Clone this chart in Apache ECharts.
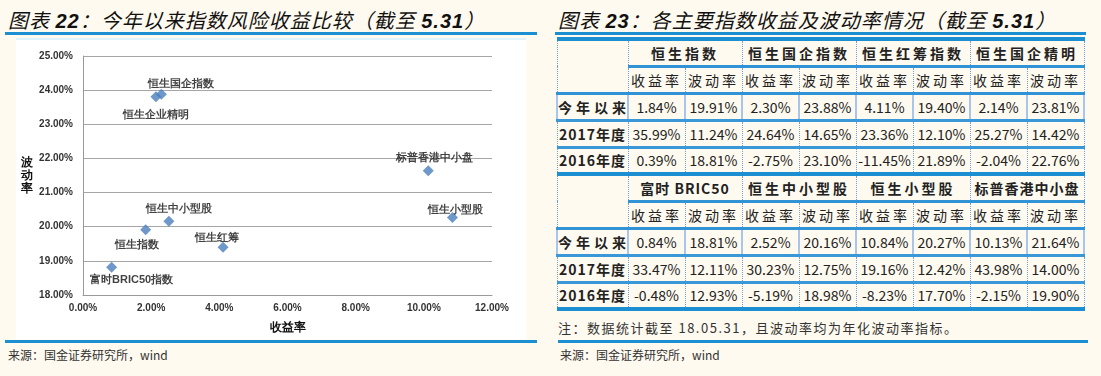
<!DOCTYPE html>
<html>
<head>
<meta charset="utf-8">
<script src="https://cdn.jsdelivr.net/npm/echarts@6/dist/echarts.min.js"></script>
<style>
  html, body { margin: 0; padding: 0; }
  body {
    width: 1101px; height: 376px; position: relative; overflow: hidden;
    background: #fffaf0;
    font-family: "Noto Sans CJK SC", "Liberation Sans", sans-serif;
  }
  .title {
    position: absolute; top: 5px; font-size: 20px; font-style: italic;
    color: #111; letter-spacing: 1px; white-space: nowrap;
  }
  .title b { font-family: "Liberation Sans", Arial, sans-serif; font-weight: bold; }
  .rule { position: absolute; height: 3px; background: #1b8fd2; }
  .source { position: absolute; top: 346px; font-size: 12px; color: #333; }
  #scatter {
    position: absolute; left: 16px; top: 38px; width: 510px; height: 299px;
    background: #fff; border-top: 2px solid #dff3fb;
  }
  table.idx {
    position: absolute; left: 556px; top: 37px; width: 527px;
    border-collapse: collapse; table-layout: fixed;
    border-top: 4px solid #1b8fd2;
  }
  table.idx tr { height: 27px; }
  table.idx td {
    border-left: 1px dotted #6e9fe0; border-right: 1px dotted #6e9fe0;
    text-align: center; padding: 0; white-space: nowrap; overflow: hidden;
    line-height: 16px; color: #222; font-size: 14px;
  }
  td.grp { font-weight: bold; font-size: 14px; letter-spacing: 3px; color: #111;
           border-bottom: 3px solid #2f93d6; }
  td.grp.long { letter-spacing: 1px; }
  td.sub { font-size: 14px; letter-spacing: 3px; color: #666; border-bottom: 3px solid #2f93d6; }
  td.corner { border-bottom: 3px solid #2f93d6; }
  td.rowname { font-weight: bold; font-size: 14px; letter-spacing: 1px; color: #111; }
  td.rowname.cn { letter-spacing: 4px; }
  tr.data td { border-bottom: 3px solid #3a97d8; }
  tr.first td { border-left: 2px solid #a8c6ec; border-right: 2px solid #a8c6ec; }
  tr.last td { border-bottom: 4px solid #1b8fd2; }
  .note { position: absolute; left: 558px; top: 318px; font-size: 13px; color: #333; letter-spacing: 1.5px; }
</style>
</head>
<body>
<div class="title" style="left:8px">图表 <b>22</b>：今年以来指数风险收益比较（截至 <b>5.31</b>）</div>
<div class="rule" style="left:5px; top:32px; width:532px"></div>
<div class="title" style="left:558px">图表 <b>23</b>：各主要指数收益及波动率情况（截至 <b>5.31</b>）</div>
<div class="rule" style="left:555px; top:32px; width:531px"></div>

<div id="scatter"></div>
<table class="idx" id="tbl"></table>
<div class="note">注：数据统计截至 18.05.31，且波动率均为年化波动率指标。</div>

<div class="rule" style="left:5px; top:340px; width:532px"></div>
<div class="rule" style="left:558px; top:340px; width:530px"></div>
<div class="source" style="left:8px">来源：国金证券研究所，wind</div>
<div class="source" style="left:560px">来源：国金证券研究所，wind</div>

<script>
// 指数名称（表格表头）
const indexNames = ['恒生指数', '恒生国企指数', '恒生红筹指数', '恒生国企精明',
                    '富时 BRIC50', '恒生中小型股', '恒生小型股', '标普香港中小盘']
// 散点图标签
const scatterNames = ['恒生指数', '恒生国企指数', '恒生红筹', '恒生企业精明',
                      '富时BRIC50指数', '恒生中小型股', '恒生小型股', '标普香港中小盘']
const rowNames = ['今年以来', '2017年度', '2016年度']
const subHeaders = ['收益率', '波动率']

// 收益率 / 波动率 (%)
const ytdReturn = [1.84, 2.30, 4.11, 2.14, 0.84, 2.52, 10.84, 10.13]
const ytdVol = [19.91, 23.88, 19.40, 23.81, 18.81, 20.16, 20.27, 21.64]
const return2017 = [35.99, 24.64, 23.36, 25.27, 33.47, 30.23, 19.16, 43.98]
const vol2017 = [11.24, 14.65, 12.10, 14.42, 12.11, 12.75, 12.42, 14.00]
const return2016 = [0.39, -2.75, -11.45, -2.04, -0.48, -5.19, -8.23, -2.15]
const vol2016 = [18.81, 23.10, 21.89, 22.76, 12.93, 18.98, 17.70, 19.90]

// 坐标轴刻度
const xTicks = [0, 2, 4, 6, 8, 10, 12]
const yTicks = [18, 19, 20, 21, 22, 23, 24, 25]

const pct = v => v.toFixed(2) + '%'

// ---- 表格 ----
const rowData = [[ytdReturn, ytdVol], [return2017, vol2017], [return2016, vol2016]]
let html = '<colgroup><col style="width:71px">' + '<col style="width:57px">'.repeat(8) + '</colgroup>'
for (let b = 0; b < 2; b++) {
  const idx = [0, 1, 2, 3].map(i => i + b * 4)
  html += '<tr><td class="corner" rowspan="2"></td>'
  idx.forEach(i => {
    const cls = indexNames[i].length > 6 ? 'grp long' : 'grp'
    html += `<td class="${cls}" colspan="2">${indexNames[i]}</td>`
  })
  html += '</tr><tr>'
  idx.forEach(() => { subHeaders.forEach(s => { html += `<td class="sub">${s}</td>` }) })
  html += '</tr>'
  rowNames.forEach((name, r) => {
    const cls = 'data' + (r === 0 ? ' first' : '') + (r === rowNames.length - 1 ? ' last' : '')
    const nameCls = /^\d/.test(name) ? 'rowname' : 'rowname cn'
    html += `<tr class="${cls}"><td class="${nameCls}">${name}</td>`
    idx.forEach(i => {
      html += `<td>${pct(rowData[r][0][i])}</td><td>${pct(rowData[r][1][i])}</td>`
    })
    html += '</tr>'
  })
}
document.getElementById('tbl').innerHTML = html

// ---- 散点图 ----
// 标签位置（样式）
const labelPos = {
  '恒生指数': { position: 'bottom', offset: [-9, 2] },
  '恒生国企指数': { position: 'top', offset: [20, 3] },
  '恒生红筹': { position: 'top', offset: [-6, 4] },
  '恒生企业精明': { position: 'bottom', offset: [0, 5] },
  '富时BRIC50指数': { position: 'bottom', offset: [20, 0] },
  '恒生中小型股': { position: 'top', offset: [10, 1] },
  '恒生小型股': { position: 'top', offset: [3, 5] },
  '标普香港中小盘': { position: 'top', offset: [6, 0] }
}

const chart = echarts.init(document.getElementById('scatter'))
const axisFont = { color: '#333', fontSize: 10, fontWeight: 'bold', fontFamily: 'Liberation Sans, Arial, sans-serif' }
chart.setOption({
  animation: false,
  grid: { left: 67, right: 34, top: 16, bottom: 38 },
  xAxis: {
    type: 'value',
    min: xTicks[0], max: xTicks[xTicks.length - 1], interval: 2,
    name: '收益率', nameLocation: 'middle', nameGap: 27,
    nameTextStyle: { color: '#111', fontSize: 12, fontWeight: 'bold' },
    axisLine: { show: true, lineStyle: { color: '#999' } },
    axisTick: { show: false },
    axisLabel: { ...axisFont, margin: 8, formatter: v => pct(v) },
    splitLine: { show: false }
  },
  yAxis: {
    type: 'value',
    min: yTicks[0], max: yTicks[yTicks.length - 1], interval: 1,
    name: '波\n动\n率', nameLocation: 'middle', nameGap: 50, nameRotate: 0,
    nameTextStyle: { color: '#111', fontSize: 12, fontWeight: 'bold', lineHeight: 13 },
    axisLine: { show: true, lineStyle: { color: '#999' } },
    axisTick: { show: false },
    axisLabel: { ...axisFont, margin: 10, formatter: v => pct(v) },
    splitLine: { lineStyle: { color: '#a6a6a6' } }
  },
  series: [{
    type: 'scatter',
    symbol: 'diamond',
    symbolSize: 11,
    itemStyle: { color: '#4a7ebb' },
    data: scatterNames.map((name, i) => ({
      name,
      value: [ytdReturn[i], ytdVol[i]],
      label: {
        show: true,
        formatter: name,
        color: '#111',
        fontSize: 11,
        fontWeight: 'bold',
        distance: 2,
        ...labelPos[name]
      }
    }))
  }]
})
</script>
</body>
</html>
